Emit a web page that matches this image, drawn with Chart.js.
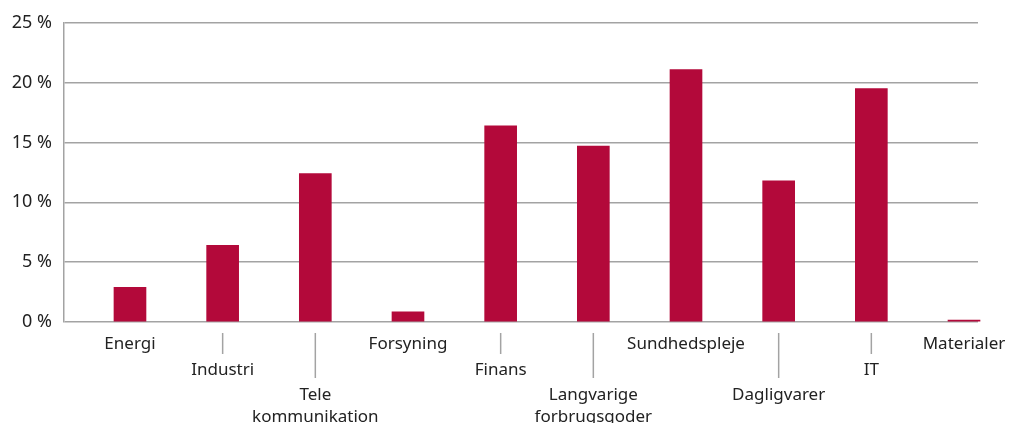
<!DOCTYPE html>
<html>
<head>
<meta charset="utf-8">
<script src="https://cdn.jsdelivr.net/npm/chart.js@4/dist/chart.umd.min.js"></script>
<style>
  body { margin: 0; background: #fff; }
  #wrap { width: 1012px; height: 423px; position: relative; }
</style>
</head>
<body>
<div id="wrap"><canvas id="grafico"></canvas></div>
<script>
const kategorier = ["Energi", "Industri", ["Tele", "kommunikation"], "Forsyning", "Finans",
    ["Langvarige", "forbrugsgoder"], "Sundhedspleje", "Dagligvarer", "IT", "Materialer"];
const andele = [2.9, 6.4, 12.4, 0.85, 16.4, 14.7, 21.1, 11.8, 19.5, 0.15];
const yTicks = [0, 5, 10, 15, 20, 25];

const farve = '#b3093a';
const gitter = '#a3a3a3';
const fontFamilie = "'Noto Sans', 'Open Sans', sans-serif";

// etiketter i tre forskudte rækker, med streg ned til række 2 og 3
const etiketPlugin = {
    id: 'etiketter',
    afterDraw(chart, args, opts) {
        const ctx = chart.ctx;
        const x = chart.scales.x;
        const baselines = [349, 375, 400];
        const stregSlut = [0, 354, 378];
        ctx.save();
        ctx.font = `17px ${fontFamilie}`;
        ctx.fillStyle = '#222';
        ctx.textAlign = 'center';
        ctx.textBaseline = 'alphabetic';
        kategorier.forEach((lab, i) => {
            const px = x.getPixelForValue(i);
            const r = opts.rows[i];
            if (r > 0) {
                ctx.strokeStyle = gitter;
                ctx.lineWidth = 1.5;
                ctx.beginPath();
                ctx.moveTo(px, 333);
                ctx.lineTo(px, stregSlut[r]);
                ctx.stroke();
            }
            const linjer = Array.isArray(lab) ? lab : [lab];
            linjer.forEach((l, j) => ctx.fillText(l, px, baselines[r] + j * 22));
        });
        ctx.restore();
    }
};

new Chart(document.getElementById('grafico'), {
    type: 'bar',
    data: {
        datasets: [{
            data: andele.map((v, i) => ({ x: i, y: v })),
            backgroundColor: farve,
            barThickness: 32,
            clip: false
        }]
    },
    options: {
        responsive: true,
        maintainAspectRatio: false,
        animation: false,
        layout: { padding: { top: 20, right: 34, bottom: 101, left: 0 } },
        plugins: {
            legend: { display: false },
            tooltip: { enabled: false },
            etiketter: { rows: [0, 1, 2, 0, 1, 2, 0, 2, 1, 0] }
        },
        scales: {
            x: {
                type: 'linear',
                display: false,
                offset: false,
                min: -0.712,
                max: 9.151
            },
            y: {
                min: 0,
                max: 25,
                afterBuildTicks: s => { s.ticks = yTicks.map(v => ({ value: v })); },
                afterFit: s => { s.width = 64; },
                grid: { color: gitter, lineWidth: 1.5, drawTicks: false },
                border: { display: true, color: gitter, width: 1.5 },
                ticks: {
                    padding: 12,
                    color: '#222',
                    font: { family: fontFamilie, size: 18 },
                    callback: v => v + ' %'
                }
            }
        }
    },
    plugins: [etiketPlugin]
});
</script>
</body>
</html>
